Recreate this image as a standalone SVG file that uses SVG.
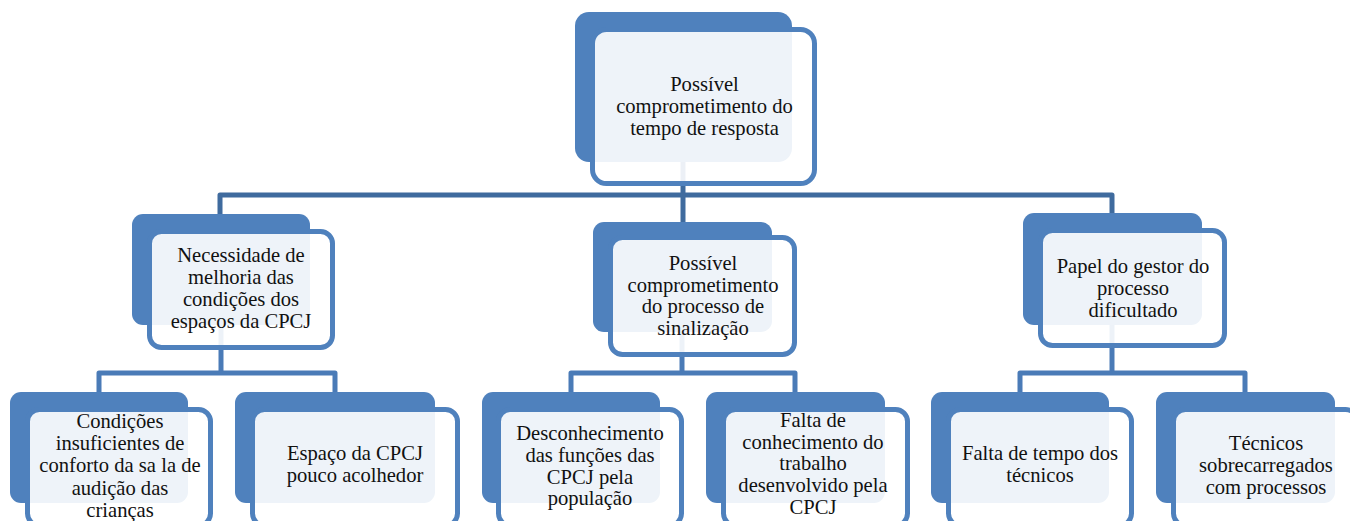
<svg xmlns="http://www.w3.org/2000/svg" width="1350" height="521" viewBox="0 0 1350 521">
<style>
.back{fill:#4f81bd}
.front{fill:#ffffff;fill-opacity:0.9;stroke:#4f81bd;stroke-width:5}
.c1{fill:none;stroke:#3f6b9e;stroke-width:5;stroke-linejoin:round}
.c2{fill:none;stroke:#4a7bb7;stroke-width:5;stroke-linejoin:round}
text{font-family:"Liberation Serif","Times New Roman",serif;font-size:20.6px;fill:#111;text-anchor:middle}
</style>
<rect width="1350" height="521" fill="#ffffff"/>
<g id="connectors">
<path class="c1" d="M220,214 V195 H1112 V214"/>
<path class="c1" d="M683,150 V222"/>
<path class="c2" d="M221,320 V373"/>
<path class="c2" d="M99,392 V373 H335 V392"/>
<path class="c2" d="M682,325 V373"/>
<path class="c2" d="M571,392 V373 H795 V392"/>
<path class="c2" d="M1112,320 V373"/>
<path class="c2" d="M1020,392 V373 H1245 V392"/>
</g>
<g id="n0">
<rect class="back" x="575" y="12" width="217" height="150" rx="14"/>
<rect class="front" x="592.5" y="29.5" width="222" height="154" rx="14"/>
<text x="704.5" y="91">Possível</text>
<text x="704.5" y="113">comprometimento do</text>
<text x="704.5" y="135">tempo de resposta</text>
</g>
<g id="n1">
<rect class="back" x="132" y="214" width="178" height="111" rx="11"/>
<rect class="front" x="149.5" y="231.5" width="183" height="116" rx="12"/>
<text x="241" y="262">Necessidade de</text>
<text x="241" y="284">melhoria das</text>
<text x="241" y="306">condições dos</text>
<text x="241" y="328">espaços da CPCJ</text>
</g>
<g id="n2">
<rect class="back" x="593" y="222" width="179" height="110" rx="11"/>
<rect class="front" x="610.5" y="237.5" width="184" height="117" rx="12"/>
<text x="703" y="270">Possível</text>
<text x="703" y="291.5">comprometimento</text>
<text x="703" y="313">do processo de</text>
<text x="703" y="335">sinalização</text>
</g>
<g id="n3">
<rect class="back" x="1023" y="213" width="179" height="112" rx="11"/>
<rect class="front" x="1040.5" y="230.5" width="184" height="115" rx="12"/>
<text x="1133" y="273">Papel do gestor do</text>
<text x="1133" y="295">processo</text>
<text x="1133" y="317">dificultado</text>
</g>
<g id="n4">
<rect class="back" x="10" y="392" width="178" height="111" rx="11"/>
<rect class="front" x="27.5" y="409.5" width="183" height="116" rx="12"/>
<text x="120" y="428">Condições</text>
<text x="120" y="450">insuficientes de</text>
<text x="120" y="472">conforto da sa la de</text>
<text x="120" y="494.5">audição das</text>
<text x="120" y="516.5">crianças</text>
</g>
<g id="n5">
<rect class="back" x="235" y="392" width="200" height="111" rx="11"/>
<rect class="front" x="252.5" y="409.5" width="205" height="116" rx="12"/>
<text x="355" y="460">Espaço da CPCJ</text>
<text x="355" y="482">pouco acolhedor</text>
</g>
<g id="n6">
<rect class="back" x="482" y="392" width="178" height="111" rx="11"/>
<rect class="front" x="498.5" y="409.5" width="183" height="116" rx="12"/>
<text x="590" y="440">Desconhecimento</text>
<text x="590" y="462">das funções das</text>
<text x="590" y="483.5">CPCJ pela</text>
<text x="590" y="505">população</text>
</g>
<g id="n7">
<rect class="back" x="706" y="392" width="179" height="111" rx="11"/>
<rect class="front" x="723.5" y="409.5" width="184" height="116" rx="12"/>
<text x="813" y="427">Falta de</text>
<text x="813" y="448.5">conhecimento do</text>
<text x="813" y="470">trabalho</text>
<text x="813" y="492">desenvolvido pela</text>
<text x="813" y="513.5">CPCJ</text>
</g>
<g id="n8">
<rect class="back" x="931" y="392" width="178" height="111" rx="11"/>
<rect class="front" x="948.5" y="409.5" width="183" height="116" rx="12"/>
<text x="1040" y="460">Falta de tempo dos</text>
<text x="1040" y="482">técnicos</text>
</g>
<g id="n9">
<rect class="back" x="1156" y="392" width="179" height="111" rx="11"/>
<rect class="front" x="1173.5" y="409.5" width="184" height="116" rx="12"/>
<text x="1266" y="450">Técnicos</text>
<text x="1266" y="472">sobrecarregados</text>
<text x="1266" y="493.5">com processos</text>
</g>
</svg>
